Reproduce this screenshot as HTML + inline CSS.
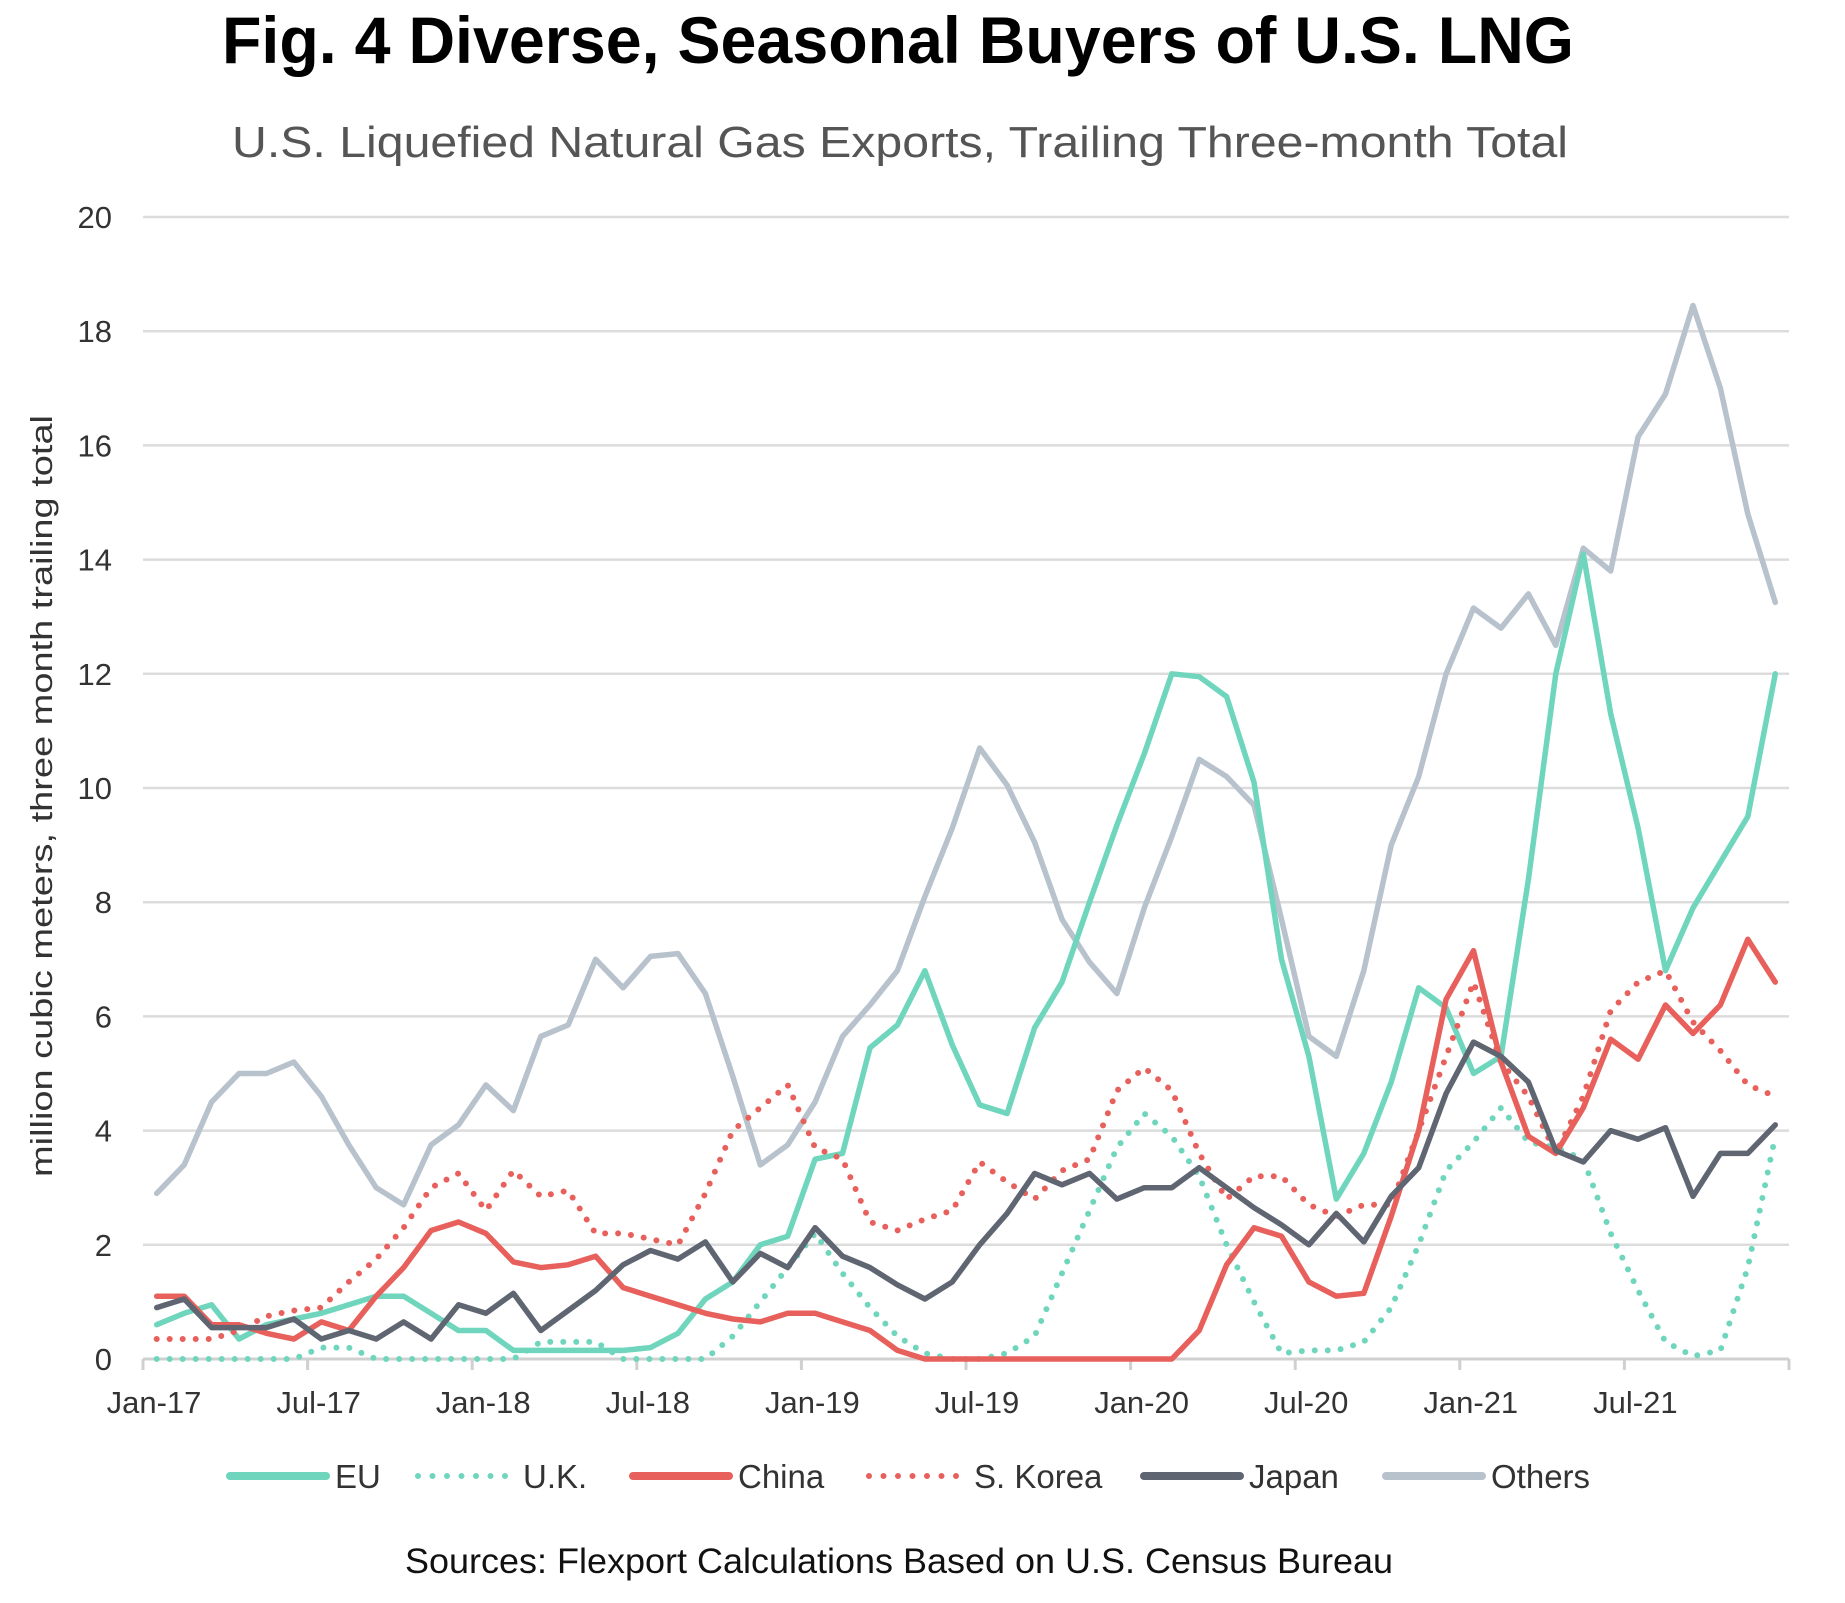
<!DOCTYPE html>
<html><head><meta charset="utf-8"><style>
html,body{margin:0;padding:0;background:#fff;}
svg{display:block;font-family:"Liberation Sans",sans-serif;}
</style></head><body>
<svg id="chart" width="1845" height="1603" viewBox="0 0 1845 1603">
<text x="898" y="63" text-anchor="middle" font-size="66" font-weight="bold" fill="#000" textLength="1352" lengthAdjust="spacingAndGlyphs">Fig. 4 Diverse, Seasonal Buyers of U.S. LNG</text>
<text x="900" y="157" text-anchor="middle" font-size="44" fill="#555" textLength="1336" lengthAdjust="spacingAndGlyphs">U.S. Liquefied Natural Gas Exports, Trailing Three-month Total</text>
<g id="grid"></g>
<g id="yticks"></g>
<g id="xaxis"></g>
<text transform="translate(52,796) rotate(-90)" text-anchor="middle" font-size="31" fill="#333" textLength="762" lengthAdjust="spacingAndGlyphs">million cubic meters, three month trailing total</text>
<g id="series"></g>
<g id="legend"></g>
<text x="899" y="1573" text-anchor="middle" font-size="35" fill="#111" textLength="988" lengthAdjust="spacingAndGlyphs">Sources: Flexport Calculations Based on U.S. Census Bureau</text>
</svg>
<script>
const yTicks = [0,2,4,6,8,10,12,14,16,18,20];
const xTickLabels = ["Jan-17","Jul-17","Jan-18","Jul-18","Jan-19","Jul-19","Jan-20","Jul-20","Jan-21","Jul-21"];
const seriesNames = ["Others","EU","U.K.","S. Korea","China","Japan"];
const others = [2.9,3.4,4.5,5.0,5.0,5.2,4.6,3.75,3.0,2.7,3.75,4.1,4.8,4.35,5.65,5.85,7.0,6.5,7.05,7.1,6.4,4.95,3.4,3.75,4.5,5.65,6.2,6.8,8.1,9.3,10.7,10.05,9.05,7.7,6.95,6.4,7.9,9.15,10.5,10.2,9.7,7.7,5.65,5.3,6.8,9.0,10.2,12.0,13.15,12.8,13.4,12.5,14.2,13.8,16.15,16.9,18.45,17.0,14.8,13.25];
const eu = [0.6,0.8,0.95,0.35,0.6,0.7,0.8,0.95,1.1,1.1,0.8,0.5,0.5,0.15,0.15,0.15,0.15,0.15,0.2,0.45,1.05,1.35,2.0,2.15,3.5,3.6,5.45,5.85,6.8,5.5,4.45,4.3,5.8,6.6,8.0,9.35,10.6,12.0,11.95,11.6,10.1,7.0,5.3,2.8,3.6,4.85,6.5,6.15,5.0,5.3,8.4,12.0,14.1,11.3,9.3,6.8,7.9,8.7,9.5,12.0];
const uk = [0,0,0,0,0,0,0.2,0.2,0,0,0,0,0,0,0.3,0.3,0.3,0,0,0,0,0.4,1.0,1.6,2.2,1.5,0.9,0.4,0.1,0,0,0.1,0.4,1.5,2.6,3.7,4.3,3.9,3.2,2.0,1.0,0.1,0.15,0.15,0.3,0.9,2.0,3.3,3.8,4.4,3.8,3.7,3.5,2.2,1.2,0.3,0.05,0.15,1.6,3.9];
const skorea = [0.35,0.35,0.35,0.5,0.75,0.85,0.9,1.35,1.75,2.3,3.0,3.25,2.6,3.3,2.85,2.95,2.2,2.2,2.1,2.0,2.9,4.0,4.4,4.8,3.7,3.5,2.4,2.25,2.45,2.6,3.45,3.1,2.8,3.3,3.5,4.7,5.1,4.7,3.6,2.8,3.2,3.2,2.7,2.5,2.7,2.7,4.0,5.3,6.6,5.2,4.6,3.6,4.6,6.1,6.6,6.8,5.9,5.4,4.8,4.6];
const china = [1.1,1.1,0.6,0.6,0.45,0.35,0.65,0.5,1.1,1.6,2.25,2.4,2.2,1.7,1.6,1.65,1.8,1.25,1.1,0.95,0.8,0.7,0.65,0.8,0.8,0.65,0.5,0.15,0,0,0,0,0,0,0,0,0,0,0.5,1.65,2.3,2.15,1.35,1.1,1.15,2.5,4.0,6.3,7.15,5.2,3.9,3.6,4.4,5.6,5.25,6.2,5.7,6.2,7.35,6.6];
const japan = [0.9,1.05,0.55,0.55,0.55,0.7,0.35,0.5,0.35,0.65,0.35,0.95,0.8,1.15,0.5,0.85,1.2,1.65,1.9,1.75,2.05,1.35,1.85,1.6,2.3,1.8,1.6,1.3,1.05,1.35,2.0,2.55,3.25,3.05,3.25,2.8,3.0,3.0,3.35,3.0,2.65,2.35,2.0,2.55,2.05,2.85,3.35,4.65,5.55,5.3,4.85,3.65,3.45,4.0,3.85,4.05,2.85,3.6,3.6,4.1];

const NS="http://www.w3.org/2000/svg";
const X0=143, X1=1789, Y0=1359, Y20=217, NM=60;
const mw=(X1-X0)/NM;
function xScale(i){return X0+(i+0.5)*mw;}
function xTick(m){return X0+m*mw;}
function yScale(v){return Y0-(v/20)*(Y0-Y20);}
function mk(tag,attrs,parent){const e=document.createElementNS(NS,tag);for(const k in attrs)e.setAttribute(k,attrs[k]);parent.appendChild(e);return e;}

const grid=document.getElementById('grid'), yt=document.getElementById('yticks'), xa=document.getElementById('xaxis');
yTicks.forEach(v=>{
  if(v>0){const l=mk('line',{x1:X0,x2:X1,y1:yScale(v),y2:yScale(v),stroke:'#dcdcdc','stroke-width':2.5},grid);
  
  }
  const t=mk('text',{x:112,y:yScale(v)+11,'text-anchor':'end','font-size':31,fill:'#333'},yt);
  t.textContent=v;
  
  
});
const ax=mk('line',{x1:X0,x2:X1,y1:Y0,y2:Y0,stroke:'#d0d0d0','stroke-width':3},xa);


for(let m=0;m<=NM;m+=6){
  const tk=mk('line',{x1:xTick(m),x2:xTick(m),y1:Y0,y2:Y0+11,stroke:'#d0d0d0','stroke-width':3},xa);
  
  
}
const lastTk=mk('line',{x1:X1,x2:X1,y1:Y0,y2:Y0+11,stroke:'#d0d0d0','stroke-width':3},xa);


xTickLabels.forEach((lb,i)=>{
  const t=mk('text',{x:xTick(i*6)+11,y:Y0+54,'text-anchor':'middle','font-size':31,fill:'#333'},xa);
  t.textContent=lb;
  
  
});

const styles={
 "Others":{d:others,c:'#b7c2cc',dash:false},
 "EU":{d:eu,c:'#6fd6bd',dash:false},
 "U.K.":{d:uk,c:'#6fd6bd',dash:true},
 "S. Korea":{d:skorea,c:'#e8605c',dash:true},
 "China":{d:china,c:'#e8605c',dash:false},
 "Japan":{d:japan,c:'#5f6672',dash:false}
};
const sg=document.getElementById('series');
seriesNames.forEach(n=>{
  const s=styles[n];
  const pts=s.d.map((v,i)=>xScale(i).toFixed(1)+','+yScale(v).toFixed(1)).join(' ');
  const a={points:pts,fill:'none',stroke:s.c,'stroke-width':s.dash?6:5.5,'stroke-linejoin':'round','stroke-linecap':'round'};
  if(s.dash){a['stroke-dasharray']='0 13';}
  const p=mk('polyline',a,sg);
  
  
});

const legendOrder=["EU","U.K.","China","S. Korea","Japan","Others"];
const legX=[230,418,633,869,1144,1386];
const lg=document.getElementById('legend');
legendOrder.forEach((n,i)=>{
  const s=styles[n]; const ly=1476;
  const a={x1:legX[i],x2:legX[i]+96,y1:ly,y2:ly,stroke:s.c,'stroke-width':s.dash?6:8,'stroke-linecap':'round'};
  if(s.dash)a['stroke-dasharray']='0 14.5';
  const g=mk('g',{},lg);
  
  
  mk('line',a,g);
  const t=mk('text',{x:legX[i]+105,y:ly+12,'font-size':33,fill:'#333'},g);
  t.textContent=n;
});
</script>
</body></html>
